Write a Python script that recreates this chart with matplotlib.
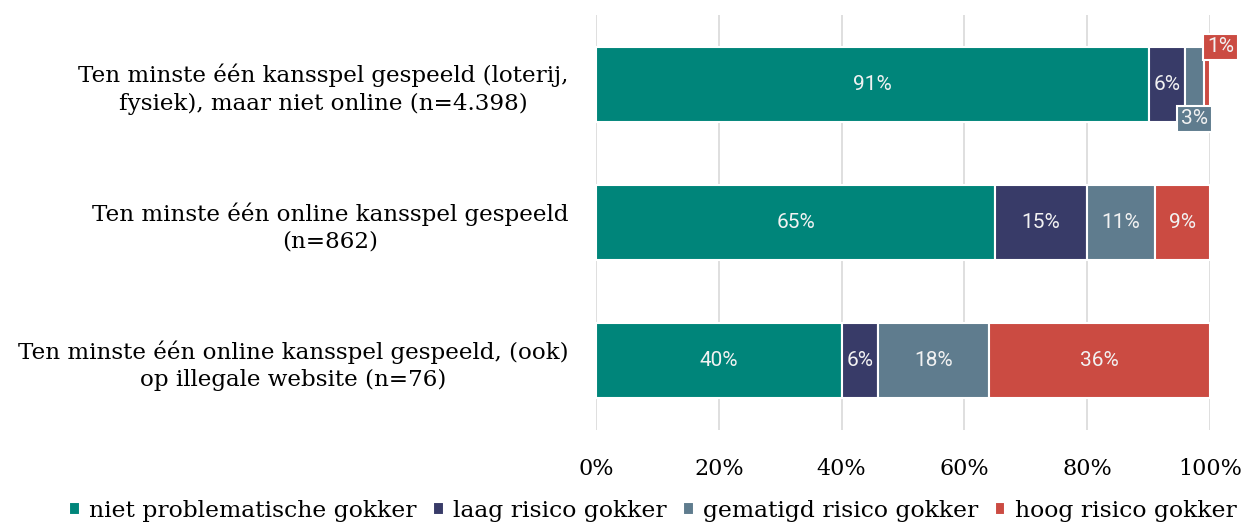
import matplotlib
matplotlib.use("Agg")
import matplotlib.pyplot as plt
import numpy as np

categories = [
    "Ten minste één kansspel gespeeld (loterij,\nfysiek), maar niet online (n=4.398)",
    "Ten minste één online kansspel gespeeld\n(n=862)",
    "Ten minste één online kansspel gespeeld, (ook)\nop illegale website (n=76)",
]
series_names = ["niet problematische gokker", "laag risico gokker",
                "gematigd risico gokker", "hoog risico gokker"]
niet_problematisch = [90, 65, 40]
laag_risico = [6, 15, 6]
gematigd_risico = [3, 11, 18]
hoog_risico = [1, 9, 36]
labels_niet = ["91%", "65%", "40%"]
labels_laag = ["6%", "15%", "6%"]
labels_gematigd = ["3%", "11%", "18%"]
labels_hoog = ["1%", "9%", "36%"]
x_ticks = [0, 20, 40, 60, 80, 100]
x_ticklabels = ["0%", "20%", "40%", "60%", "80%", "100%"]

colors = ["#00857a", "#383b68", "#5f7c8e", "#cb4b42"]
series = [niet_problematisch, laag_risico, gematigd_risico, hoog_risico]
series_labels = [labels_niet, labels_laag, labels_gematigd, labels_hoog]

serif = ["DejaVu Serif"]
sans = ["Roboto", "DejaVu Sans"]
lab_color = "#f2f2f2"
lab_size = 15

fig = plt.figure(figsize=(12.43, 5.27), dpi=100)
ax = fig.add_axes([596/1243, 1-430/527, (1210-596)/1243, (430-15)/527])

y = np.arange(len(categories))
left = np.zeros(len(categories))
bar_h = 0.54
for vals, col, name, labs in zip(series, colors, series_names, series_labels):
    vals = np.array(vals, dtype=float)
    ax.barh(y, vals, left=left, height=bar_h, color=col, edgecolor="white",
            linewidth=1.5, label=name, zorder=3)
    for i, (v, l) in enumerate(zip(vals, labs)):
        cx = left[i] + v / 2
        if v >= 5:
            ax.text(cx, y[i], l, ha="center", va="center", color=lab_color,
                    fontsize=lab_size, family=sans, zorder=5)
        elif name == "gematigd risico gokker":
            ax.text(cx, y[i] + 0.25, l, ha="center", va="center", color=lab_color,
                    fontsize=lab_size, family=sans, zorder=5,
                    bbox=dict(boxstyle="square,pad=0.18", fc=col, ec="white", lw=1.5))
        else:
            ax.text(cx + 2.2, y[i] - 0.27, l, ha="center", va="center", color=lab_color,
                    fontsize=lab_size, family=sans, zorder=5,
                    bbox=dict(boxstyle="square,pad=0.18", fc=col, ec="white", lw=1.5))
    left += vals

ax.set_xlim(0, 100)
ax.set_ylim(2.5, -0.5)
ax.set_xticks(x_ticks)
ax.set_xticklabels(x_ticklabels, family=serif, fontsize=16)
ax.tick_params(axis="x", length=0, pad=20)
ax.set_yticks(y)
ax.set_yticklabels(categories, family=serif, fontsize=16.6, ha="right",
                   multialignment="center", linespacing=1.3)
ax.tick_params(axis="y", length=0, pad=20)
ax.grid(axis="x", color="#d9d9d9", linewidth=1.2, zorder=0)
for s in ax.spines.values():
    s.set_visible(False)

leg = fig.legend(loc="center", bbox_to_anchor=(653/1243, 1-511/527), ncol=4,
                 frameon=False, prop={"family": serif, "size": 16.9},
                 handlelength=0.45, handleheight=0.45, handletextpad=0.4,
                 columnspacing=0.7)

fig.savefig("out.png", dpi=100)
